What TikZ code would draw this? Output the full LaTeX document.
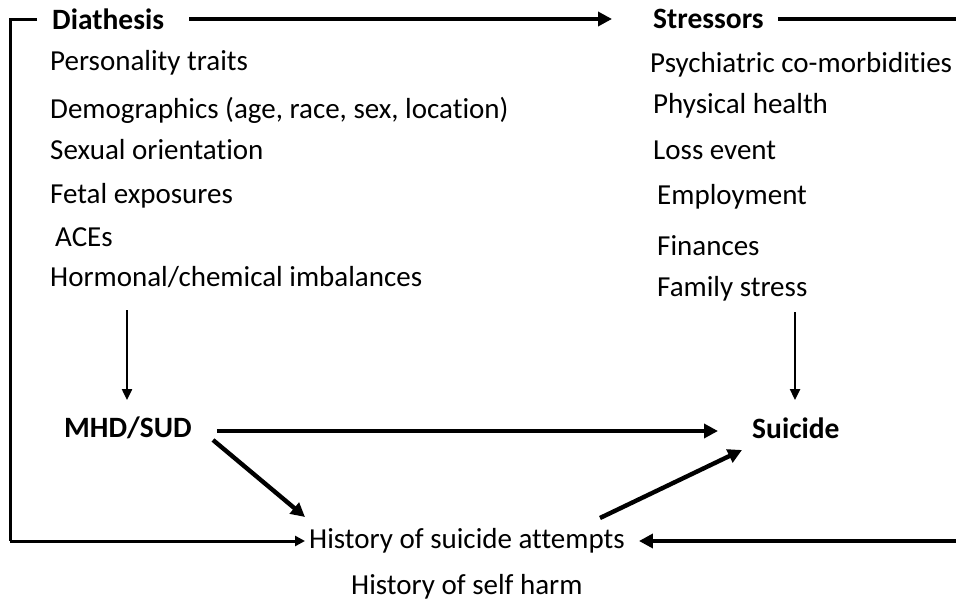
\documentclass[tikz,border=0pt]{standalone}
\usepackage{fontspec}
\setmainfont{Carlito}[Ligatures=NoCommon]
\usetikzlibrary{arrows.meta}
\begin{document}
\begin{tikzpicture}[x=1pt,y=-1pt,
  txt/.style={anchor=west,inner sep=0pt,font=\fontsize{29}{32}\selectfont},
  hd/.style={txt,font=\fontsize{29.5}{32}\selectfont\bfseries},
  bot/.style={anchor=west,inner sep=0pt,font=\fontsize{29}{32}\selectfont},
  thick arrow/.style={line width=4.4pt,-{Triangle[length=14pt,width=14pt]}},
  thin arrow/.style={line width=2.4pt,-{Triangle[length=11pt,width=10pt]}},
  bracket/.style={line width=3pt}]
\useasboundingbox (0,0) rectangle (956,604);
% headings
\node[hd] (dia) at (52,19) {Diathesis};
\node[hd] (str) at (653,19) {Stressors};
\node[hd] (mhd) at (64,428) {MHD/SUD};
\node[hd] (sui) at (752,428) {Suicide};
% diathesis items
\node[txt] (d1) at (50,63) {Personality traits};
\node[txt] (d2) at (50,110) {Demographics (age, race, sex, location)};
\node[txt] (d3) at (50,150) {Sexual orientation};
\node[txt] (d4) at (50,196) {Fetal exposures};
\node[txt] (d5) at (55,237) {ACEs};
\node[txt] (d6) at (50,277) {Hormonal/chemical imbalances};
% stressor items
\node[txt] (s1) at (650,65) {Psychiatric co-morbidities};
\node[txt] (s2) at (653,106) {Physical health};
\node[txt] (s3) at (653,150) {Loss event};
\node[txt] (s4) at (657,197) {Employment};
\node[txt] (s5) at (657,246) {Finances};
\node[txt] (s6) at (657,289) {Family stress};
% bottom
\node[bot] (hsa) at (309,541) {History of suicide attempts};
\node[bot] (hsh) at (351,587) {History of self harm};
% coordinates
\coordinate (tl) at (37,20);
\coordinate (tc) at (10,20);
\coordinate (bc) at (10,541);
\coordinate (re) at (956,19);
\coordinate (rb) at (956,541);
% connectors
\draw[thick arrow] ([xshift=25pt]dia.east) -- ([xshift=-41pt]str.west);
\draw[line width=4.4pt] ([xshift=14pt]str.east) -- (re);
\draw[bracket] (tl) -- (tc) -- (bc);
\draw[line width=3pt,-{Triangle[length=10pt,width=10pt]}] (bc) -- ([xshift=-4pt]hsa.west);
\draw[thick arrow] (rb) -- ([xshift=14pt]hsa.east);
\draw[thin arrow] (127,310) -- (127,400);
\draw[thin arrow] (795,312) -- (795,400);
\draw[thick arrow] ([xshift=25pt,yshift=-3pt]mhd.east) -- ([xshift=-34pt,yshift=-3pt]sui.west);
\draw[thick arrow] (213,440) -- (305,517);
\draw[thick arrow] (600,518) -- (742,450);
\end{tikzpicture}
\end{document}
